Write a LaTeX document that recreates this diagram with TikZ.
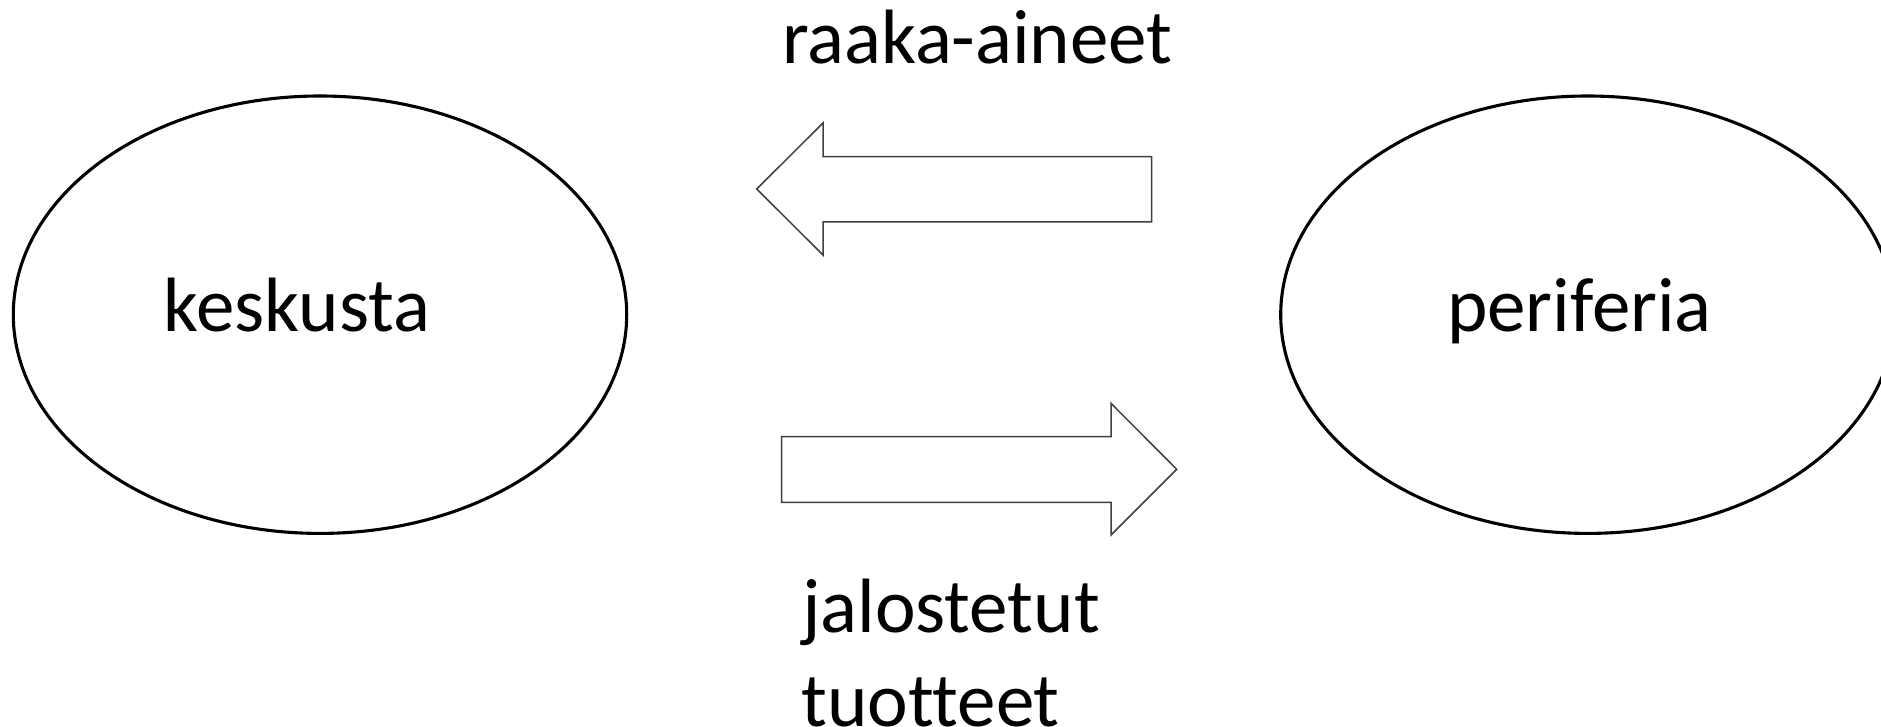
\documentclass[tikz,border=0pt]{standalone}
\usepackage{fontspec}
\setmainfont[Ligatures={NoCommon,NoRequired,NoContextual}]{Carlito}
\begin{document}
\begin{tikzpicture}[x=1pt,y=-1pt,
  oval/.style={draw=black,line width=3.1pt},
  blockarrow/.style={draw=black!75,line width=1.5pt,line join=miter,fill=white},
  lbl/.style={inner sep=0pt,anchor=base west,font=\fontsize{77}{90}\selectfont}]
\useasboundingbox (0,0) rectangle (1881,727);
\clip (0,0) rectangle (1881,727);
\fill[white] (0,0) rectangle (1881,727);
% ellipses
\draw[oval] (320,314.7) ellipse [x radius=306.7, y radius=218.7];
\draw[oval] (1587.7,314.7) ellipse [x radius=307, y radius=218.7];
\node[lbl] (kesk) at (163.5,331) {keskusta};
\node[lbl] (peri) at (1447,331) {periferia};
% upper arrow (pointing left)
\draw[blockarrow] (756.7,189) -- (823,123) -- (823,156.7) -- (1151.7,156.7)
  -- (1151.7,222) -- (823,222) -- (823,255) -- cycle;
% lower arrow (pointing right)
\draw[blockarrow] (781.7,436.7) -- (1111,436.7) -- (1111,403.3) -- (1176.7,469.3)
  -- (1111,535) -- (1111,502.3) -- (781.7,502.3) -- cycle;
\node[lbl] (raaka) at (782,64) {raaka-aineet};
\node[lbl] (jalo) at (802,632) {jalostetut};
\node[lbl] (tuot) at (801,726) {tuotteet};
\end{tikzpicture}
\end{document}
